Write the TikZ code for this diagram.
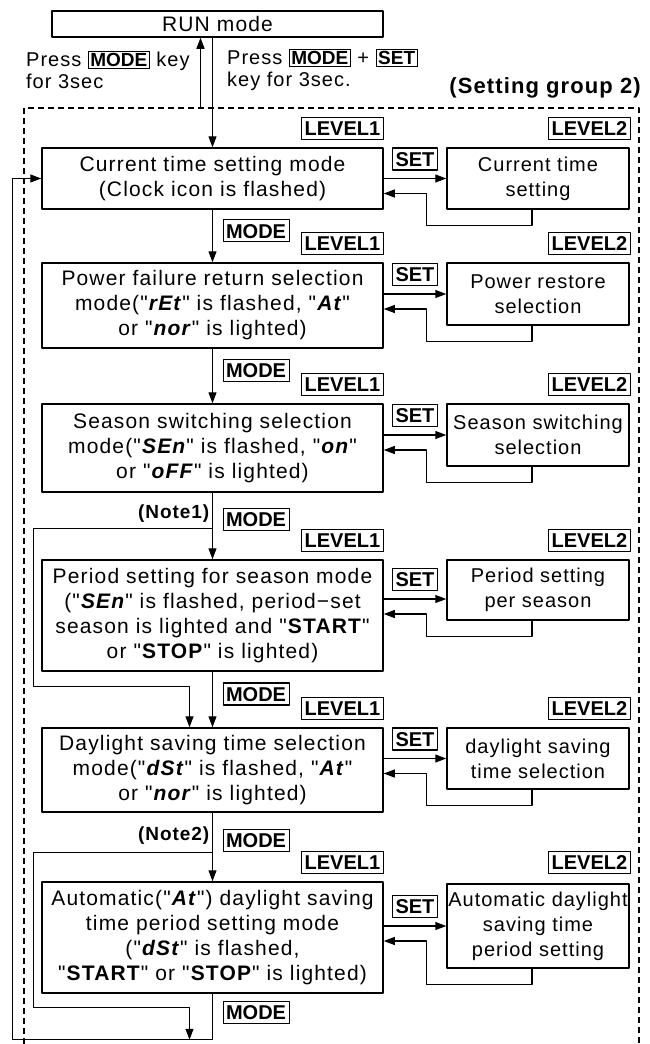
\documentclass[tikz,border=0pt]{standalone}
\usepackage{fontspec}
\setmainfont{Liberation Sans}
\newfontfamily\txtfont{Liberation Sans}[LetterSpace=5.5]
\newfontfamily\settxtfont{Liberation Sans}[LetterSpace=5]
\newfontfamily\lblfont{Liberation Sans}
\newfontfamily\headfont{Liberation Sans}[LetterSpace=5]
\usetikzlibrary{arrows.meta,calc,positioning}
\newcommand{\seg}[1]{\textbf{\textit{#1}}}
\newcommand{\keycap}[1]{{\setlength{\fboxsep}{1.5pt}\setlength{\fboxrule}{1pt}\fbox{\lblfont\bfseries\fontsize{19}{19}\selectfont #1}}}

\begin{document}
\begin{tikzpicture}[x=1pt, y=-1pt, line join=round, >={Triangle[length=11pt,width=8pt]},
	modebox/.style={draw, line width=1.5pt, align=center, minimum width=341pt, inner sep=0pt, font=\txtfont\fontsize{21}{25}\selectfont},
	setbox/.style={modebox, minimum width=182pt, font=\settxtfont\fontsize{20}{25}\selectfont},
	keylbl/.style={draw, line width=1.1pt, inner xsep=3pt, inner ysep=0pt, text height=14.5pt, text depth=0pt, minimum height=22pt, font=\lblfont\bfseries\fontsize{20}{20}\selectfont},
	notelbl/.style={inner sep=0pt, font=\headfont\bfseries\fontsize{19}{19}\selectfont},
	plain/.style={inner sep=0pt, align=left, font=\settxtfont\fontsize{20}{22}\selectfont},
	link/.style={line width=1.1pt}]
	\useasboundingbox (0,0) rectangle (649,1044);
	% RUN mode and the keys round it
	\node[modebox, minimum width=331pt, minimum height=26pt] (run) at (217.5,24) {RUN mode};
	\node[plain, anchor=west] (pressL) at (26,70) {Press \keycap{MODE} key\\for 3sec};
	\node[plain, anchor=west] (pressR) at (227,70) {Press \keycap{MODE} + \keycap{SET}\\key for 3sec.};
	\node[notelbl, anchor=base east, font=\headfont\bfseries\fontsize{22}{22}\selectfont] (grp) at (641,93) {(Setting group 2)};
	% setting group frame
	\draw[link, dash pattern=on 6pt off 4pt] (24,1044) -- (24,108) -- (639,108) -- (639,1044);
	% level 1 modes
	\node[modebox, minimum height=61pt] (cur) at (212.5,178.5) {Current time setting mode\\(Clock icon is flashed)};
	\node[modebox, minimum height=85pt] (pow) at (212.5,305.5) {Power failure return selection\\mode("\seg{rEt}" is flashed, "\seg{At}"\\or "\seg{nor}" is lighted)};
	\node[modebox, minimum height=88pt] (sea) at (212.5,448) {Season switching selection\\mode("\seg{SEn}" is flashed, "\seg{on}"\\or "\seg{oFF}" is lighted)};
	\node[modebox, minimum height=111pt] (per) at (212.5,615.5) {Period setting for season mode\\("\seg{SEn}" is flashed, period−set\\season is lighted and "\textbf{START}"\\or "\textbf{STOP}" is lighted)};
	\node[modebox, minimum height=84pt] (day) at (212.5,770) {Daylight saving time selection\\mode("\seg{dSt}" is flashed, "\seg{At}"\\or "\seg{nor}" is lighted)};
	\node[modebox, minimum height=111pt] (aut) at (212.5,937.5) {Automatic("\seg{At}") daylight saving\\time period setting mode\\("\seg{dSt}" is flashed,\\"\textbf{START}" or "\textbf{STOP}" is lighted)};
	% level 2 settings
	\node[setbox, minimum height=61pt] (curR) at (538,178.5) {Current time\\setting};
	\node[setbox, minimum height=62pt] (powR) at (538,294) {Power restore\\selection};
	\node[setbox, minimum height=62pt] (seaR) at (538,435) {Season switching\\selection};
	\node[setbox, minimum height=60pt] (perR) at (538,590) {Period setting\\per season};
	\node[setbox, minimum height=61pt] (dayR) at (538,758.5) {daylight saving\\time selection};
	\node[setbox, minimum height=84pt] (autR) at (538,926) {Automatic daylight\\saving time\\period setting};
	% SET and return links, LEVEL tags
	\foreach \l/\r/\d in {cur/curR/0, pow/powR/0, sea/seaR/0, per/perR/9, day/dayR/0, aut/autR/0} {
		\node[keylbl, anchor=south east] (\l-lv1) at ($(\l.north east)+(0,-7)$) {LEVEL1};
		\node[keylbl, anchor=south east] (\l-lv2) at ($(\l.north -| \r.east)+(1,-7)$) {LEVEL2};
		\draw[link, ->] ($(\l.east |- \r.west)+(0,\d)$) -- node[keylbl, above=8pt] (\l-set) {SET} ($(\r.west)+(0,\d)$);
		\draw[link, ->] ($(\r.south)+(-6,0)$) -- ++(0,16) -| ($(\l.east |- \r.west)+(43,\d+15)$) -- ($(\l.east |- \r.west)+(0,\d+15)$);
	}
	% MODE links down the column
	\draw[link, ->] (run.south -| cur.north) -- (cur.north);
	\coordinate (up) at ($(cur.north)+(-12,-40)$);
	\draw[link, ->] (up) -- (up |- run.south);
	\foreach \a/\b in {cur/pow, pow/sea, sea/per, per/day, day/aut}
		\draw[link, ->] (\a.south) -- node[keylbl, pos=0.4, right=10pt] (\a-mode) {MODE} (\b.north);
	% notes: skipping a mode
	\coordinate (n1) at ($(sea.south)+(0,36)$);
	\node[notelbl, anchor=south east] (note1) at ($(n1)+(-3,-6)$) {(Note1)};
	\draw[link, ->] (n1) -| ($(per.west)+(-8,0)$) |- ($(day.north)+(-23,-41)$) -- ($(day.north)+(-23,0)$);
	\coordinate (n2) at ($(day.south)+(0,40)$);
	\node[notelbl, anchor=south east] (note2) at ($(n2)+(-3,-8)$) {(Note2)};
	\coordinate (btm) at ($(aut.south)+(0,46)$);
	\draw[link, ->] (n2) -| ($(aut.west)+(-8,0)$) |- ($(btm)+(-23,-32)$) -- ($(btm)+(-23,0)$);
	\draw[link, ->] (aut.south) -- node[keylbl, pos=0.4, right=10pt] (aut-mode) {MODE} (btm) -| ($(cur.west)+(-29,0)$) -- (cur.west);
\end{tikzpicture}
\end{document}
